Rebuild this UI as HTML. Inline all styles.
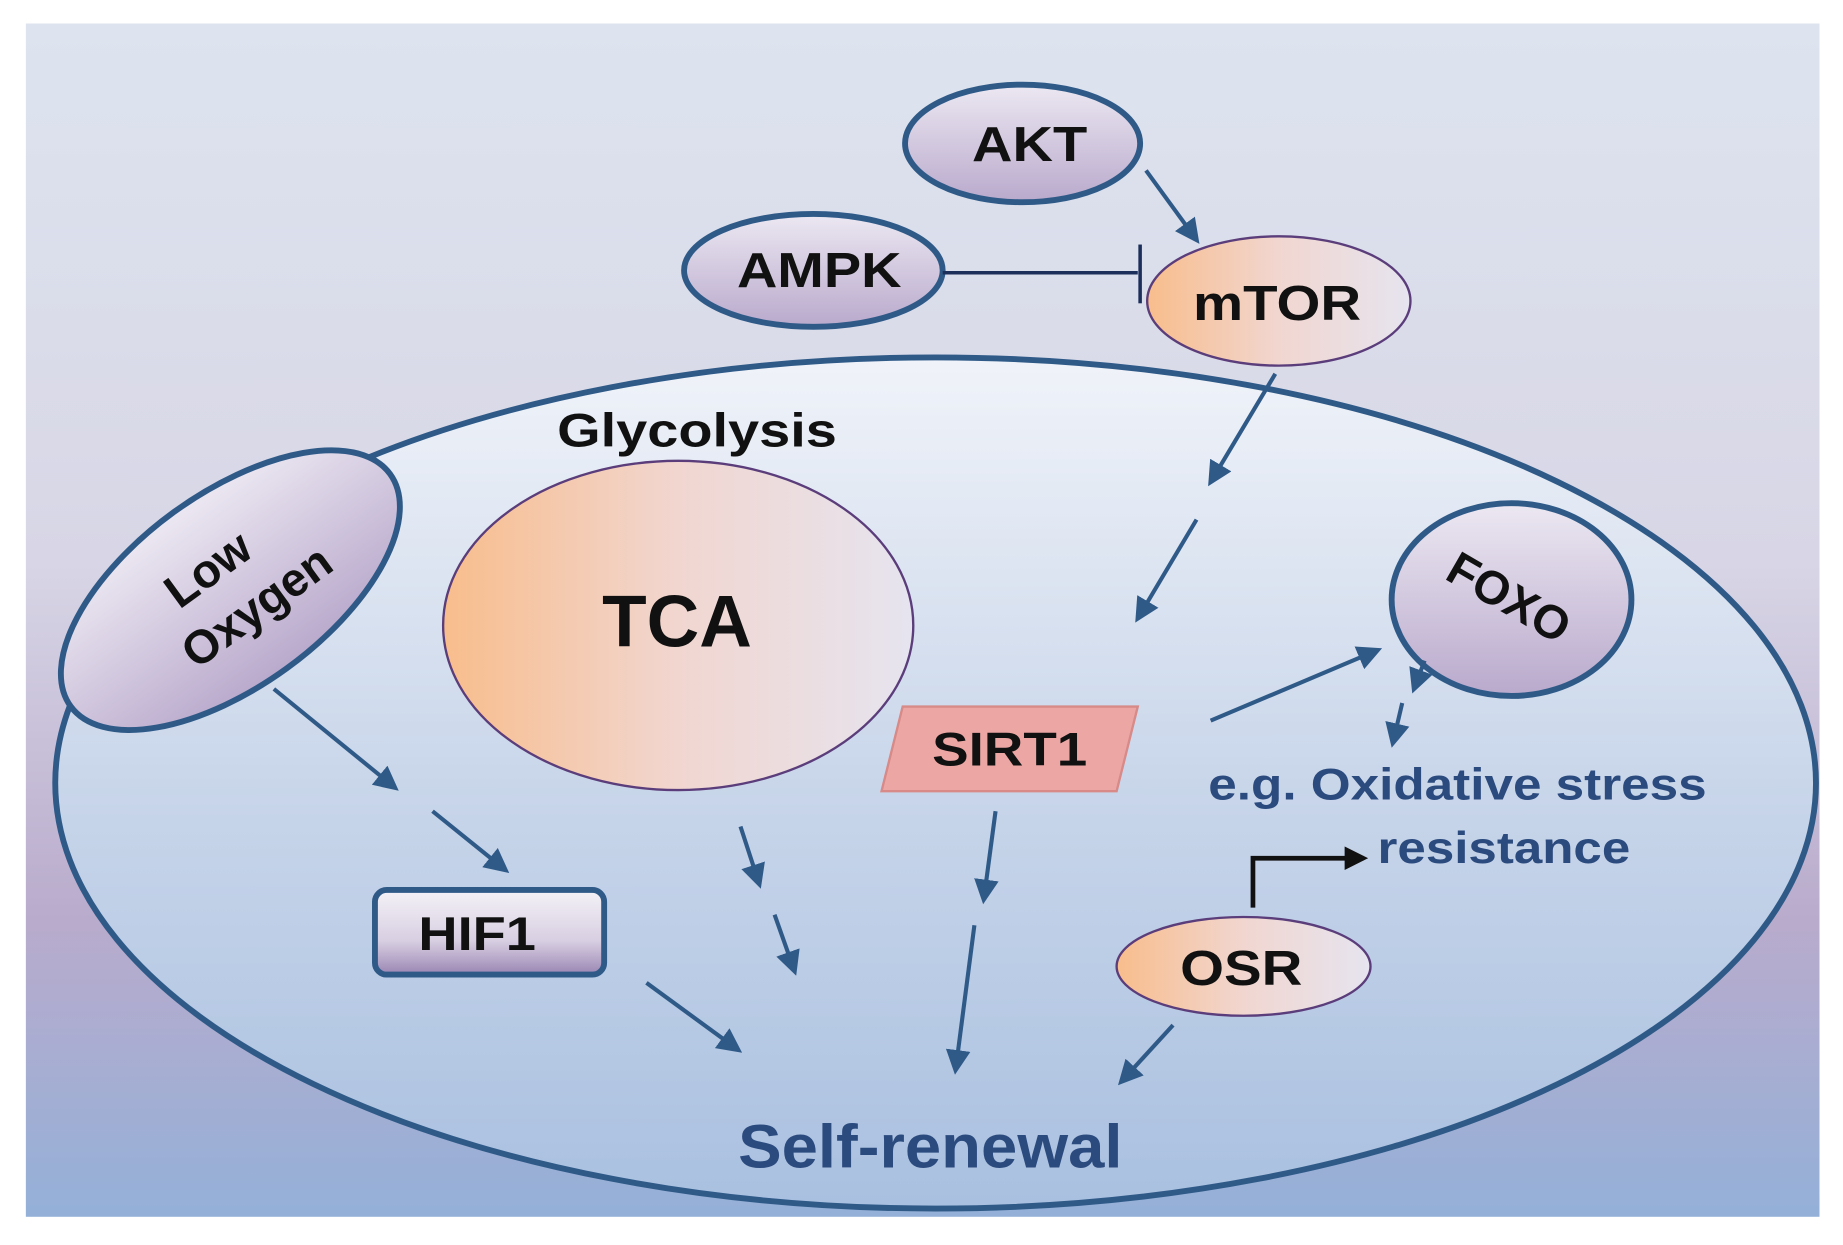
<!DOCTYPE html>
<html><head><style>html,body{margin:0;padding:0;background:#fff}svg{display:block}</style></head><body>
<svg width="1843" height="1245" viewBox="0 0 1568 1059" preserveAspectRatio="none" xmlns="http://www.w3.org/2000/svg" font-family="Liberation Sans, Arial, sans-serif" font-weight="bold">
<defs>
<linearGradient id="bg" x1="0" y1="0" x2="0" y2="1">
<stop offset="0" stop-color="#dde4ef"/><stop offset="0.45" stop-color="#d8d6e6"/><stop offset="0.75" stop-color="#b9abcc"/><stop offset="1" stop-color="#94b0d8"/></linearGradient>
<linearGradient id="cell" x1="0" y1="0" x2="0" y2="1">
<stop offset="0" stop-color="#f0f3f9"/><stop offset="0.5" stop-color="#c9d6ea"/><stop offset="1" stop-color="#a9c0e0"/></linearGradient>
<linearGradient id="orange" x1="0" y1="0" x2="1" y2="0">
<stop offset="0" stop-color="#f8bd8c"/><stop offset="0.5" stop-color="#f1d6d0"/><stop offset="1" stop-color="#e6e4ef"/></linearGradient>
<linearGradient id="purple" x1="0" y1="0" x2="0" y2="1">
<stop offset="0" stop-color="#ece8f2"/><stop offset="1" stop-color="#b9a9cc"/></linearGradient>
<linearGradient id="hif" x1="0" y1="0" x2="0" y2="1">
<stop offset="0" stop-color="#f4f2f7"/><stop offset="0.6" stop-color="#d8cfe2"/><stop offset="1" stop-color="#9a85b3"/></linearGradient>
<marker id="ah" viewBox="0 0 10 10" refX="8" refY="5" markerWidth="6" markerHeight="6" orient="auto"><path d="M0,0 L10,5 L0,10 z" fill="#2f5a88"/></marker>
<marker id="ak" viewBox="0 0 10 10" refX="8" refY="5" markerWidth="5" markerHeight="5" orient="auto"><path d="M0,0 L10,5 L0,10 z" fill="#111"/></marker>
</defs>
<rect x="0" y="0" width="1568" height="1059" fill="#fff"/>
<rect x="22" y="20" width="1526" height="1015" fill="url(#bg)"/>
<ellipse cx="796" cy="666" rx="749" ry="362" fill="url(#cell)" stroke="#2f5a88" stroke-width="5"/>
<ellipse cx="870" cy="122" rx="100" ry="50" fill="url(#purple)" stroke="#2f5a88" stroke-width="5"/>
<text x="827" y="137" font-size="42" textLength="98" lengthAdjust="spacingAndGlyphs" fill="#111">AKT</text>
<ellipse cx="692" cy="230" rx="110" ry="48" fill="url(#purple)" stroke="#2f5a88" stroke-width="5"/>
<text x="627" y="244" font-size="42" textLength="140" lengthAdjust="spacingAndGlyphs" fill="#111">AMPK</text>
<ellipse cx="1088" cy="256" rx="112" ry="55" fill="url(#orange)" stroke="#5a3d7a" stroke-width="2"/>
<text x="1015" y="272" font-size="42" textLength="143" lengthAdjust="spacingAndGlyphs" fill="#111">mTOR</text>
<line x1="802" y1="232" x2="968" y2="232" stroke="#1c2f5a" stroke-width="3"/>
<line x1="970" y1="208" x2="970" y2="258" stroke="#1c2f5a" stroke-width="3"/>
<line x1="975" y1="145" x2="1018" y2="204" stroke="#2f5a88" stroke-width="3.5" marker-end="url(#ah)"/>
<line x1="1085" y1="318" x2="1030" y2="410" stroke="#2f5a88" stroke-width="3.5" marker-end="url(#ah)"/>
<line x1="1018" y1="442" x2="968" y2="526" stroke="#2f5a88" stroke-width="3.5" marker-end="url(#ah)"/>
<g transform="translate(196,502) rotate(-36)">
<ellipse cx="0" cy="0" rx="168" ry="82" fill="url(#purple)" stroke="#2f5a88" stroke-width="5"/>
<text x="-5" y="-12" font-size="40" text-anchor="middle" fill="#111">Low</text>
<text x="10" y="38" font-size="40" text-anchor="middle" fill="#111">Oxygen</text>
</g>
<text x="474" y="380" font-size="40" textLength="238" lengthAdjust="spacingAndGlyphs" fill="#111">Glycolysis</text>
<ellipse cx="577" cy="532" rx="200" ry="140" fill="url(#orange)" stroke="#5a3d7a" stroke-width="2"/>
<text x="576" y="550" font-size="62" text-anchor="middle" fill="#111">TCA</text>
<polygon points="768,601 968,601 950,673 750,673" fill="#eca6a4" stroke="#d78a88" stroke-width="2"/>
<text x="793" y="651" font-size="40" textLength="132" lengthAdjust="spacingAndGlyphs" fill="#111">SIRT1</text>
<ellipse cx="1286" cy="510" rx="102" ry="82" fill="url(#purple)" stroke="#2f5a88" stroke-width="5"/>
<text x="1284" y="522" font-size="40" text-anchor="middle" fill="#111" transform="rotate(30 1284 508)">FOXO</text>
<line x1="1030" y1="613" x2="1172" y2="553" stroke="#2f5a88" stroke-width="3.5" marker-end="url(#ah)"/>
<line x1="1212" y1="562" x2="1203" y2="586" stroke="#2f5a88" stroke-width="3.5" marker-end="url(#ah)"/>
<line x1="1193" y1="598" x2="1185" y2="632" stroke="#2f5a88" stroke-width="3.5" marker-end="url(#ah)"/>
<text x="1028" y="680" font-size="38" textLength="424" lengthAdjust="spacingAndGlyphs" fill="#2b4a7e">e.g. Oxidative stress</text>
<text x="1172" y="734" font-size="38" textLength="215" lengthAdjust="spacingAndGlyphs" fill="#2b4a7e">resistance</text>
<polyline points="1066,772 1066,730 1160,730" fill="none" stroke="#111" stroke-width="4" marker-end="url(#ak)"/>
<ellipse cx="1058" cy="822" rx="108" ry="42" fill="url(#orange)" stroke="#5a3d7a" stroke-width="2"/>
<text x="1004" y="838" font-size="42" textLength="104" lengthAdjust="spacingAndGlyphs" fill="#111">OSR</text>
<line x1="998" y1="872" x2="954" y2="920" stroke="#2f5a88" stroke-width="3.5" marker-end="url(#ah)"/>
<rect x="319" y="757" width="195" height="72" rx="10" fill="url(#hif)" stroke="#2f5a88" stroke-width="5"/>
<text x="356" y="808" font-size="40" textLength="100" lengthAdjust="spacingAndGlyphs" fill="#111">HIF1</text>
<line x1="233" y1="586" x2="336" y2="670" stroke="#2f5a88" stroke-width="3.5" marker-end="url(#ah)"/>
<line x1="368" y1="690" x2="430" y2="740" stroke="#2f5a88" stroke-width="3.5" marker-end="url(#ah)"/>
<line x1="550" y1="836" x2="628" y2="893" stroke="#2f5a88" stroke-width="3.5" marker-end="url(#ah)"/>
<line x1="630" y1="703" x2="646" y2="752" stroke="#2f5a88" stroke-width="3.5" marker-end="url(#ah)"/>
<line x1="659" y1="778" x2="676" y2="826" stroke="#2f5a88" stroke-width="3.5" marker-end="url(#ah)"/>
<line x1="847" y1="690" x2="837" y2="765" stroke="#2f5a88" stroke-width="3.5" marker-end="url(#ah)"/>
<line x1="829" y1="787" x2="813" y2="910" stroke="#2f5a88" stroke-width="3.5" marker-end="url(#ah)"/>
<text x="628" y="993" font-size="52" textLength="327" lengthAdjust="spacingAndGlyphs" fill="#2b4a7e">Self-renewal</text>
</svg>
</body></html>
